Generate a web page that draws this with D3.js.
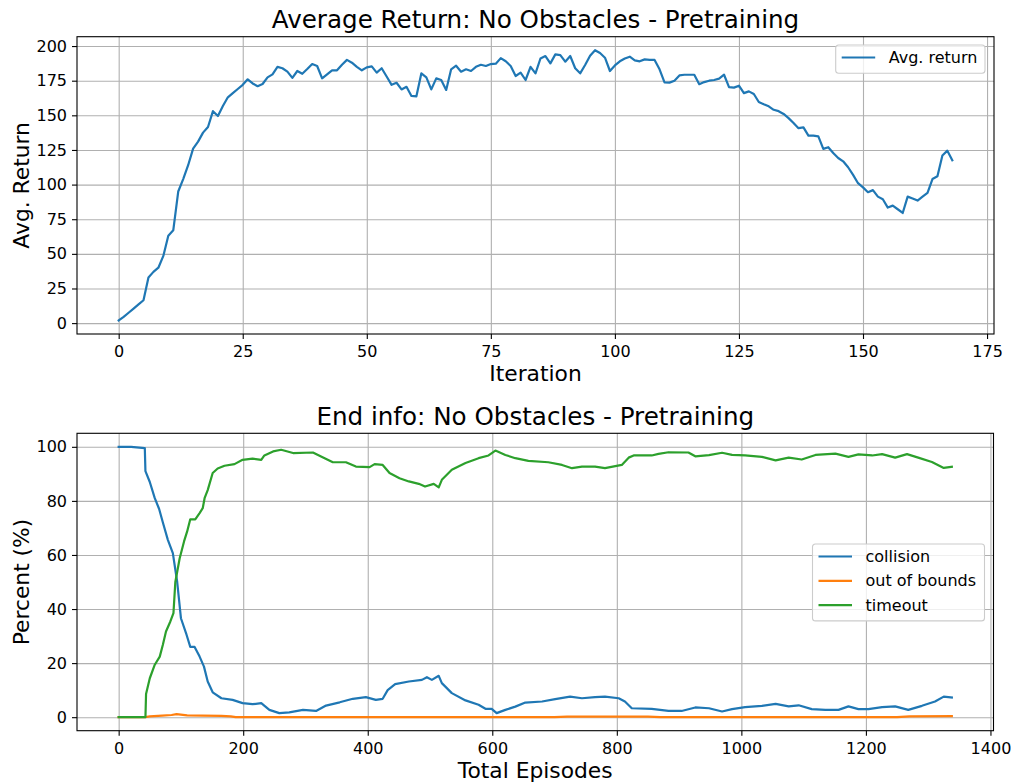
<!DOCTYPE html>
<html>
<head>
<meta charset="utf-8">
<script src="https://cdn.jsdelivr.net/npm/d3@7"></script>
<style>
    body { margin: 0; background: #fff; }
    svg { display: block; font-family: 'DejaVu Sans', sans-serif; }
    .grid line { stroke: #b0b0b0; stroke-width: 1.1; }
    .grid path { display: none; }
    .axis path { display: none; }
    .axis line { stroke: #000; stroke-width: 1.1; }
    .axis text { font-size: 16px; fill: #000; font-family: 'DejaVu Sans', sans-serif; }
    .spine { fill: none; stroke: #000; stroke-width: 1.1; }
    .series { fill: none; stroke-width: 2.2; stroke-linejoin: round; stroke-linecap: square; }
    .title { font-size: 24.6px; text-anchor: middle; }
    .label { font-size: 21.8px; text-anchor: middle; }
    .legend text { font-size: 16px; }
</style>
</head>
<body>
<div id="chart"></div>
<script>
'use strict';

// Average return per iteration (index = iteration)
const avgReturn = [
    1.9, 4.5, 7.5, 10.5, 13.5, 16.5, 33, 37, 40, 48.5,
    63, 67, 95, 104, 114, 126, 131, 137.5, 141.6, 153,
    149.5, 156.7, 163, 166, 169, 172, 176, 173, 171, 172.6,
    177.4, 179.6, 185, 184, 181.5, 177, 182, 180, 183.4, 187,
    185.6, 176.7, 179.6, 182.5, 182.5, 186.5, 190, 188, 185, 182.5,
    184.6, 185.3, 180.8, 184, 178, 172, 173.5, 168.7, 170.6, 164,
    163.7, 180.3, 177.4, 168.7, 176.7, 175.5, 168.3, 183.2, 185.8, 181.5,
    183.2, 182, 185, 186.5, 185.6, 187, 187.3, 191.3, 189, 185.6,
    178.4, 180.8, 175.5, 185, 180.3, 191, 192.8, 187.5, 194, 193.5,
    188.7, 192.8, 184, 180.3, 186.3, 193, 197, 195, 191.6, 182,
    186, 189, 191, 192.3, 189.7, 189, 190.4, 190, 190, 183.2,
    173.8, 173.6, 175, 178.8, 179.3, 179.3, 179.3, 172.5, 174, 175,
    175.5, 176.5, 179.3, 170.4, 170, 171.4, 166, 167.3, 165.4, 159.6,
    158, 156.5, 154, 153, 151, 148, 144.5, 140.7, 141.3, 135.3,
    135.3, 134.8, 125.8, 127, 122.8, 119.2, 116.8, 112.5, 107, 101,
    98, 94.5, 96, 91.3, 89.4, 83.4, 84.8, 82.2, 79.5, 91.3,
    90, 88.5, 91.3, 94, 104, 106, 121, 124.5, 117.5
];

// End info, [total episodes, percent]
const collision = [
    [0, 100], [20, 100], [42, 99.5], [43, 91], [50, 87], [58, 81], [65, 77], [71, 72],
    [79, 65.6], [87, 60.7], [94, 50], [100, 36.6], [109, 30.5], [115, 26], [122, 26],
    [130, 22.4], [137, 18.7], [143, 13.2], [151, 9.2], [165, 7], [183, 6.4], [199, 5.2],
    [215, 4.8], [229, 5.2], [242, 2.7], [258, 1.5], [274, 1.8], [296, 2.7], [317, 2.3],
    [333, 4.3], [355, 5.5], [376, 6.8], [397, 7.4], [413, 6.4], [424, 6.8], [432, 10],
    [444, 12.2], [466, 13.2], [487, 13.8], [495, 14.8], [503, 13.8], [514, 15.3], [519, 12.6],
    [535, 8.9], [557, 6.2], [578, 4.6], [589, 3.1], [599, 3.1], [607, 1.5], [621, 2.7],
    [637, 3.9], [653, 5.4], [680, 5.8], [701, 6.7], [725, 7.6], [744, 7.0], [765, 7.4],
    [781, 7.6], [803, 7.0], [813, 5.8], [824, 3.3], [856, 3.1], [883, 2.3], [904, 2.3],
    [926, 3.6], [948, 3.3], [969, 2.1], [985, 3.0], [1006, 3.7], [1033, 4.2], [1055, 4.9],
    [1076, 4.0], [1092, 4.4], [1113, 3.0], [1135, 2.7], [1156, 2.7], [1172, 4.0], [1188, 3.0],
    [1204, 3.0], [1226, 3.7], [1247, 4.0], [1268, 2.7], [1290, 4.2], [1311, 5.8], [1325, 7.6],
    [1338, 7.3]
];

const outOfBounds = [
    [0, 0], [43, 0], [50, 0.3], [70, 0.6], [85, 0.8], [93, 1.1], [110, 0.7], [135, 0.6],
    [165, 0.5], [180, 0.3], [188, 0], [700, 0], [720, 0.2], [850, 0.2], [870, 0],
    [1250, 0], [1270, 0.3], [1338, 0.4]
];

const timeout = [
    [0, 0], [43, 0], [44, 8.6], [50, 14.4], [58, 19.4], [66, 22.4], [71, 26.8], [76, 31.7],
    [83, 35.4], [88, 38.5], [91, 50], [98, 58.8], [105, 65], [110, 68.7], [115, 73.2],
    [123, 73.2], [130, 75.5], [135, 77.3], [138, 81], [143, 84], [151, 90.3], [159, 92],
    [170, 93], [186, 93.6], [199, 95.2], [215, 95.6], [229, 95.2], [234, 96.8], [248, 98.3],
    [261, 98.9], [280, 97.7], [312, 97.9], [325, 96.4], [344, 94.3], [365, 94.3], [381, 92.7],
    [403, 92.5], [411, 93.6], [424, 93.3], [435, 90.3], [451, 88.4], [466, 87.2], [482, 86.3],
    [492, 85.3], [506, 86.3], [514, 85], [519, 87.8], [535, 91.5], [557, 94], [578, 95.8],
    [594, 96.8], [605, 98.6], [621, 97], [637, 95.8], [658, 94.8], [690, 94.3], [712, 93.3],
    [728, 92.1], [744, 92.7], [765, 92.7], [781, 92.1], [808, 93.3], [819, 96], [827, 96.8],
    [856, 96.8], [867, 97.4], [883, 98], [915, 97.9], [926, 96.5], [948, 96.9], [969, 97.8],
    [985, 97], [1006, 96.8], [1033, 96.3], [1055, 95], [1076, 96], [1097, 95.3], [1119, 97],
    [1151, 97.5], [1172, 96.3], [1188, 97.2], [1210, 96.8], [1226, 97.3], [1247, 96],
    [1266, 97.3], [1284, 96], [1306, 94.4], [1325, 92.2], [1338, 92.6]
];

const returnXTicks = [0, 25, 50, 75, 100, 125, 150, 175];
const returnYTicks = [0, 25, 50, 75, 100, 125, 150, 175, 200];
const endXTicks = [0, 200, 400, 600, 800, 1000, 1200, 1400];
const endYTicks = [0, 20, 40, 60, 80, 100];

const endSeriesNames = ['collision', 'out of bounds', 'timeout'];
const colors = ['#1f77b4', '#ff7f0e', '#2ca02c'];

/*** matplotlib style 5% margin on both ends ***/
function padded(extent) {
    const m = (extent[1] - extent[0]) * 0.05;
    return [extent[0] - m, extent[1] + m];
}

/*** Axes frame, grid, ticks, titles. Returns the inner group ***/
function drawAxes(svg, box, x, y, opts) {
    const w = box.right - box.left;
    const h = box.bottom - box.top;
    const g = svg.append('g').attr('transform', `translate(${box.left}, ${box.top})`);

    g.append('g').classed('grid', true)
        .attr('transform', `translate(0, ${h})`)
        .call(d3.axisBottom(x).tickValues(opts.xTicks.filter(t => x(t) <= w)).tickSize(-h).tickFormat(''));
    g.append('g').classed('grid', true)
        .call(d3.axisLeft(y).tickValues(opts.yTicks).tickSize(-w).tickFormat(''));

    const plot = g.append('g');

    g.append('rect').classed('spine', true).attr('width', w).attr('height', h);

    g.append('g').classed('axis', true)
        .attr('transform', `translate(0, ${h})`)
        .call(d3.axisBottom(x).tickValues(opts.xTicks).tickSize(5).tickPadding(7).tickFormat(d3.format('d')));
    g.append('g').classed('axis', true)
        .call(d3.axisLeft(y).tickValues(opts.yTicks).tickSize(5).tickPadding(5).tickFormat(d3.format('d')));

    g.append('text').classed('title', true)
        .attr('x', w / 2).attr('y', -8.4)
        .text(opts.title);
    g.append('text').classed('label', true)
        .attr('x', w / 2).attr('y', h + 47.3)
        .text(opts.xLabel);
    g.append('text').classed('label', true)
        .attr('transform', `translate(${28.5 - box.left}, ${h / 2}) rotate(-90)`)
        .text(opts.yLabel);

    return plot;
}

/*** Legend box anchored to the axes right edge ***/
function drawLegend(svg, box, entries, legendTop, legendWidth) {
    const rowH = 24.3;
    const lg = svg.append('g').classed('legend', true)
        .attr('transform', `translate(${box.right - 9 - legendWidth}, ${legendTop})`);
    lg.append('rect')
        .attr('width', legendWidth).attr('height', entries.length * rowH + 4)
        .attr('rx', 3)
        .attr('fill', '#fff').attr('fill-opacity', 0.8)
        .attr('stroke', '#cccccc').attr('stroke-width', 1.1);
    entries.forEach((e, i) => {
        const cy = 12.5 + i * rowH;
        lg.append('line')
            .attr('x1', 6).attr('x2', 39.5).attr('y1', cy).attr('y2', cy)
            .attr('stroke', e.color).attr('stroke-width', 2.2);
        lg.append('text')
            .attr('x', 53).attr('y', cy).attr('dy', '0.35em')
            .text(e.name);
    });
}

function main() {
    const svg = d3.select('#chart')
        .append('svg')
        .attr('width', 1016)
        .attr('height', 783);

    // Average return panel
    const topBox = { left: 77, right: 994, top: 36.7, bottom: 334 };
    const xTop = d3.scaleLinear()
        .domain(padded([0, avgReturn.length - 1]))
        .range([0, topBox.right - topBox.left]);
    const yTop = d3.scaleLinear()
        .domain(padded(d3.extent(avgReturn)))
        .range([topBox.bottom - topBox.top, 0]);

    const topPlot = drawAxes(svg, topBox, xTop, yTop, {
        xTicks: returnXTicks, yTicks: returnYTicks,
        title: 'Average Return: No Obstacles - Pretraining',
        xLabel: 'Iteration', yLabel: 'Avg. Return'
    });
    topPlot.append('path')
        .classed('series', true)
        .attr('stroke', colors[0])
        .attr('d', d3.line().x((d, i) => xTop(i)).y(d => yTop(d))(avgReturn));

    drawLegend(svg, topBox, [{ name: 'Avg. return', color: colors[0] }], 45, 149.3);

    // End info panel
    const botBox = { left: 77, right: 993.5, top: 433.3, bottom: 730.7 };
    const endSeries = [collision, outOfBounds, timeout];
    const allEnd = endSeries.flat();
    const xBot = d3.scaleLinear()
        .domain(padded(d3.extent(allEnd, d => d[0])))
        .range([0, botBox.right - botBox.left]);
    const yBot = d3.scaleLinear()
        .domain(padded(d3.extent(allEnd, d => d[1])))
        .range([botBox.bottom - botBox.top, 0]);

    const botPlot = drawAxes(svg, botBox, xBot, yBot, {
        xTicks: endXTicks, yTicks: endYTicks,
        title: 'End info: No Obstacles - Pretraining',
        xLabel: 'Total Episodes', yLabel: 'Percent (%)'
    });
    const line = d3.line().x(d => xBot(d[0])).y(d => yBot(d[1]));
    endSeries.forEach((s, i) => {
        botPlot.append('path')
            .classed('series', true)
            .attr('stroke', colors[i])
            .attr('d', line(s));
    });

    drawLegend(svg, botBox,
        endSeriesNames.map((n, i) => ({ name: n, color: colors[i] })),
        544, 172);
} main();
</script>
</body>
</html>
